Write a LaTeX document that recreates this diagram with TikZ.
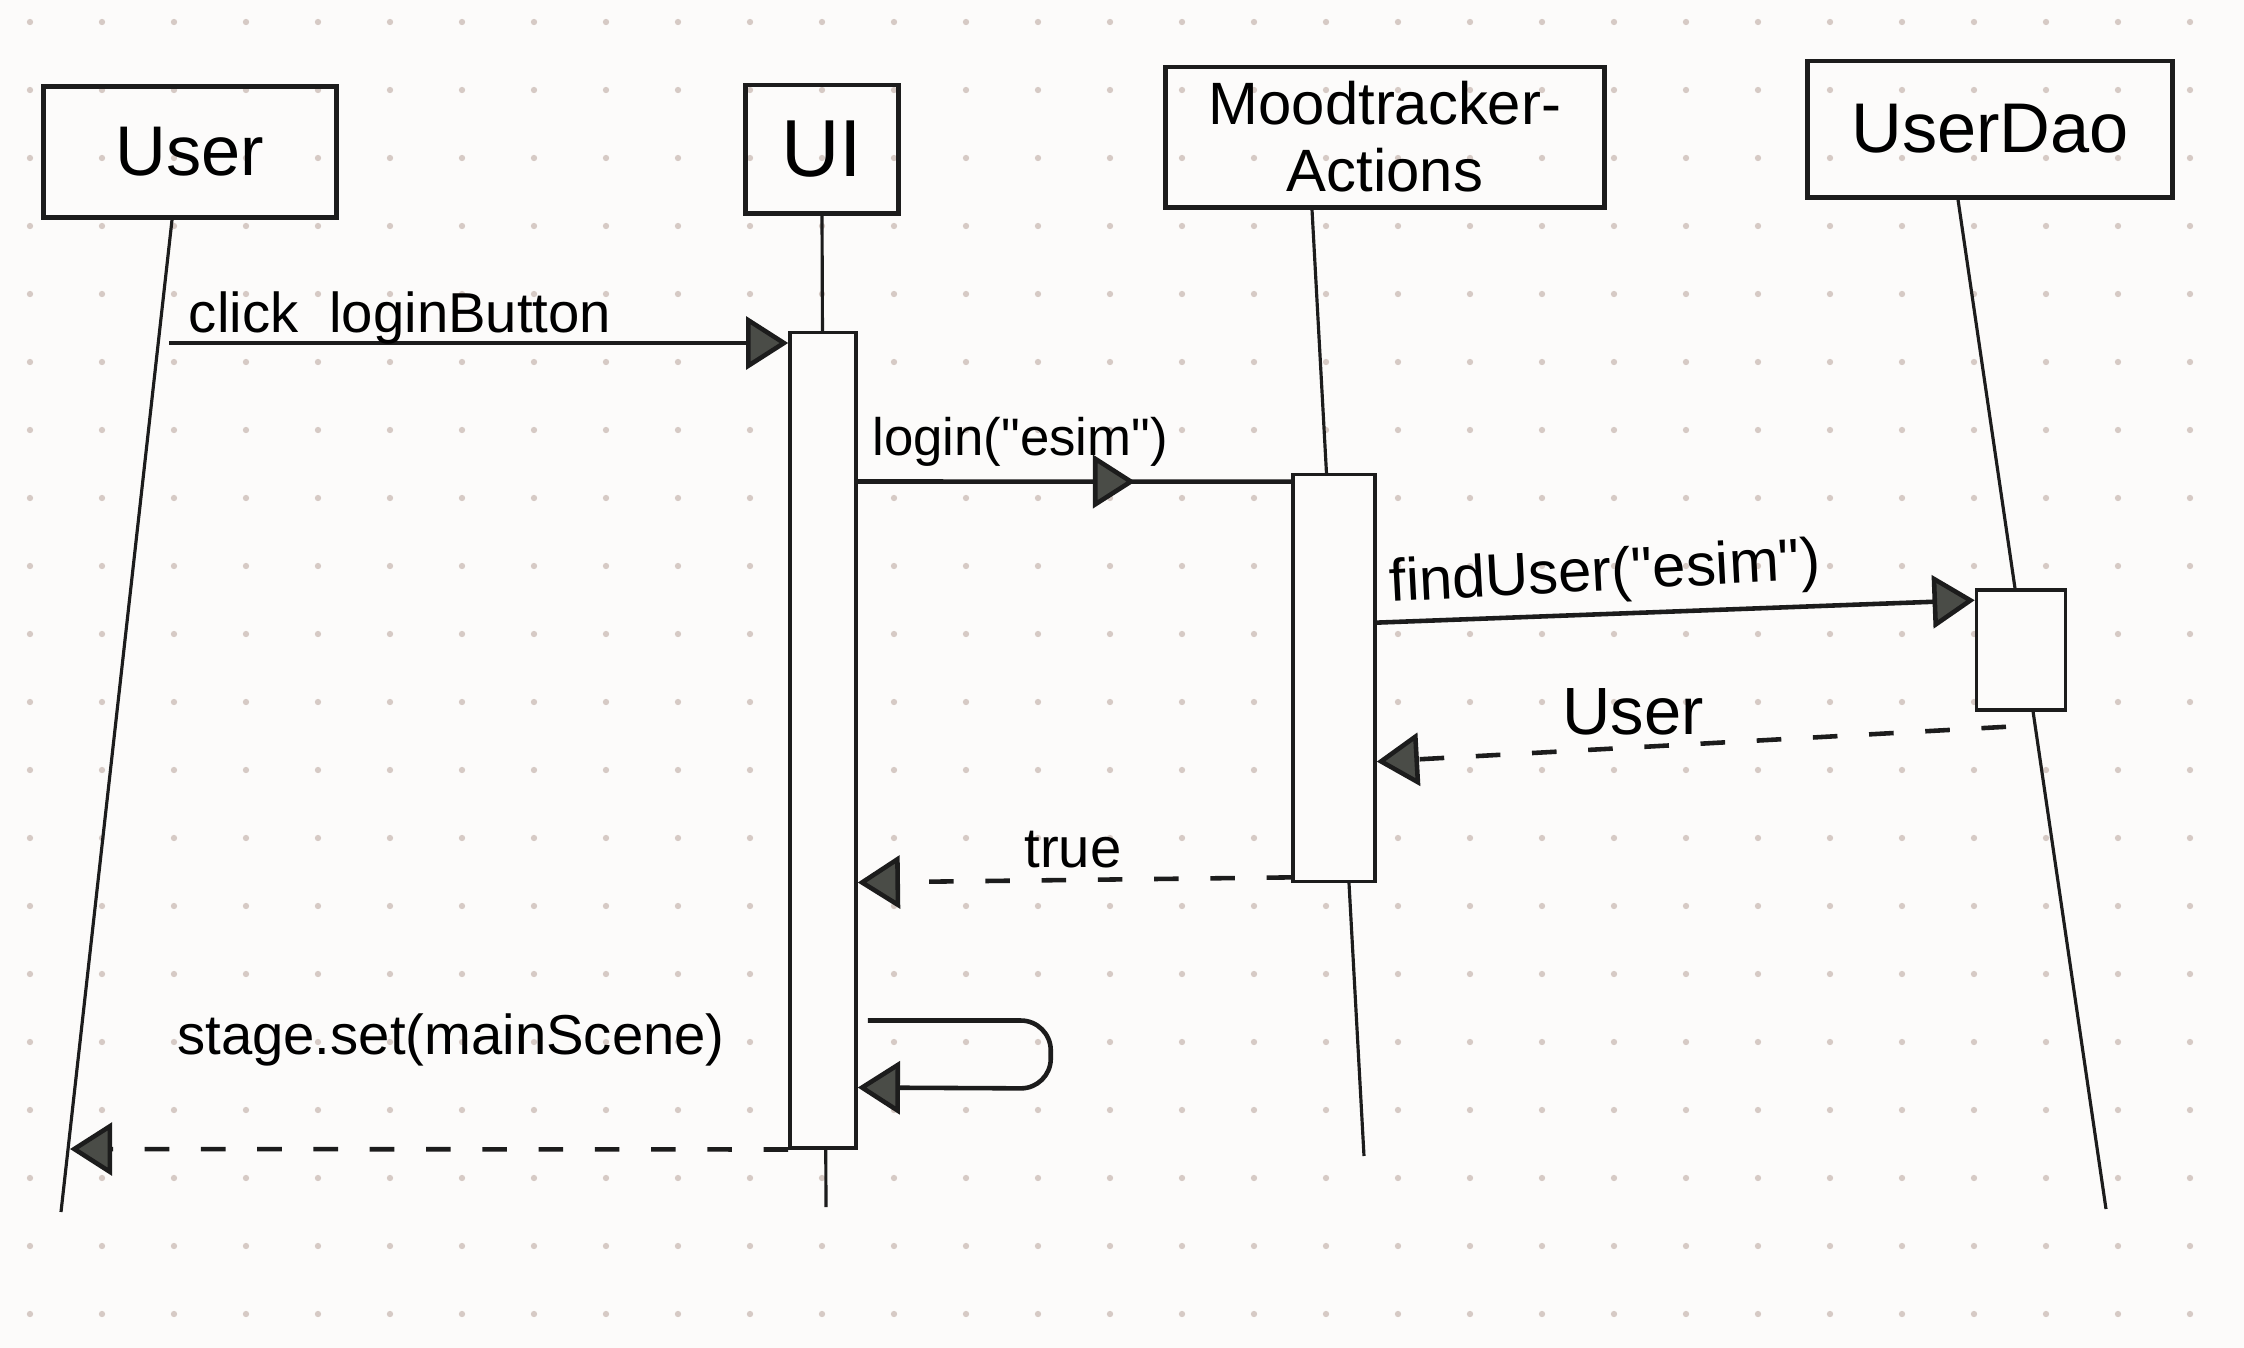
\documentclass[tikz,border=0pt]{standalone}
\usepackage{fontspec}
\setmainfont{Liberation Sans}[Ligatures=TeXOff]
\usetikzlibrary{arrows.meta,calc,decorations.markings}
\definecolor{ink}{HTML}{1C1C1C}
\definecolor{headfill}{HTML}{4A4C47}
\definecolor{paper}{HTML}{FCFBFA}
\definecolor{dotc}{HTML}{D6CAC5}
\begin{document}
\begin{tikzpicture}[x=0.01cm,y=-0.01cm,
  actor/.style={draw=ink,line width=1.4pt,inner sep=0pt,align=center},
  life/.style={draw=ink,line width=0.9pt},
  act/.style={draw=ink,line width=1pt,fill=paper,inner sep=0pt},
  tip/.style={-{Triangle[length=12pt,width=15pt,fill=headfill]}},
  msg/.style={draw=ink,line width=1.3pt,tip},
  ret/.style={msg,dash pattern=on 7pt off 9pt},
  lbl/.style={font=\fontsize{16}{18}\selectfont,inner sep=1pt}
]
\useasboundingbox (0,0) rectangle (2244,1348);
\fill[paper] (0,0) rectangle (2244,1348);
\foreach \i in {0,...,30}{\foreach \j in {0,...,19}{\fill[dotc] (30+72*\i,22+68*\j) circle[radius=0.9pt];}}

% actors
\node[actor,minimum width=2.93cm,minimum height=1.31cm,font=\fontsize{20}{22}\selectfont] (User) at (190,152) {User};
\node[actor,minimum width=1.52cm,minimum height=1.28cm,font=\fontsize{23}{25}\selectfont] (UI) at (822,149) {UI};
\node[actor,minimum width=4.38cm,minimum height=1.40cm,font=\fontsize{17}{19}\selectfont] (MA) at (1385,137) {Moodtracker-\\Actions};
\node[actor,minimum width=3.65cm,minimum height=1.36cm,font=\fontsize{20}{22}\selectfont] (UD) at (1990,129) {UserDao};

% lifeline ends
\coordinate (uBot) at (61,1212);
\coordinate (uiBot) at (826,1207);
\coordinate (maBot) at (1364,1156);
\coordinate (udBot) at (2106,1209);
\draw[life] ($(User.south)+(-18,0)$) -- (uBot);
\draw[life] (UI.south) -- (uiBot);
\draw[life] ($(MA.south)+(-73,0)$) -- (maBot);
\draw[life] ($(UD.south)+(-32,0)$) -- (udBot);

% activations
\node[act,minimum width=0.66cm,minimum height=8.15cm] (aUI) at (823,740) {};
\node[act,minimum width=0.82cm,minimum height=4.07cm] (aMA) at (1334,678) {};
\node[act,minimum width=0.89cm,minimum height=1.20cm] (aUD) at (2021,650) {};

% messages
\coordinate (m1s) at (169,343);
\draw[msg] (m1s) -- (aUI.north west |- m1s);
\node[lbl] (lClick) at (400,318) {click\ \ loginButton};

\draw[draw=ink,line width=1.3pt,postaction={decorate},
  decoration={markings,mark=at position 0.64 with {\arrow{Triangle[length=12pt,width=15pt,fill=headfill]}}}]
  ($(aUI.north east)+(0,151)$) -- ($(aMA.north west)+(0,9)$);
\node[lbl,font=\fontsize{15}{17}\selectfont] (lLogin) at (1020,442) {login("esim")};

\draw[msg] ($(aMA.north east)+(0,150)$) -- ($(aUD.north west)+(0,12)$);
\node[lbl,font=\fontsize{17}{19}\selectfont,rotate=3] (lFind) at (1605,575) {findUser("esim")};

\draw[ret] ($(aUD.south)+(-15,15)$) -- ($(aMA.north east)+(0,289)$);
\node[lbl,font=\fontsize{19}{21}\selectfont] (lUser) at (1633,712) {User};

\draw[ret] ($(aMA.south west)+(0,-6)$) -- ($(aUI.north east)+(0,552)$);
\node[lbl] (lTrue) at (1073,850) {true};

\coordinate (s1) at ($(aUI.north east)+(10,690)$);
\draw[msg,rounded corners=0.3cm] (s1) -- ++(183,0) -- ++(0,68) -- ($(aUI.north east)+(0,757)$);
\node[lbl] (lStage) at (451,1040) {stage.set(mainScene)};

\coordinate (uRet) at (70,1149);
\draw[ret] (aUI.south west) -- (uRet);
\end{tikzpicture}
\end{document}
